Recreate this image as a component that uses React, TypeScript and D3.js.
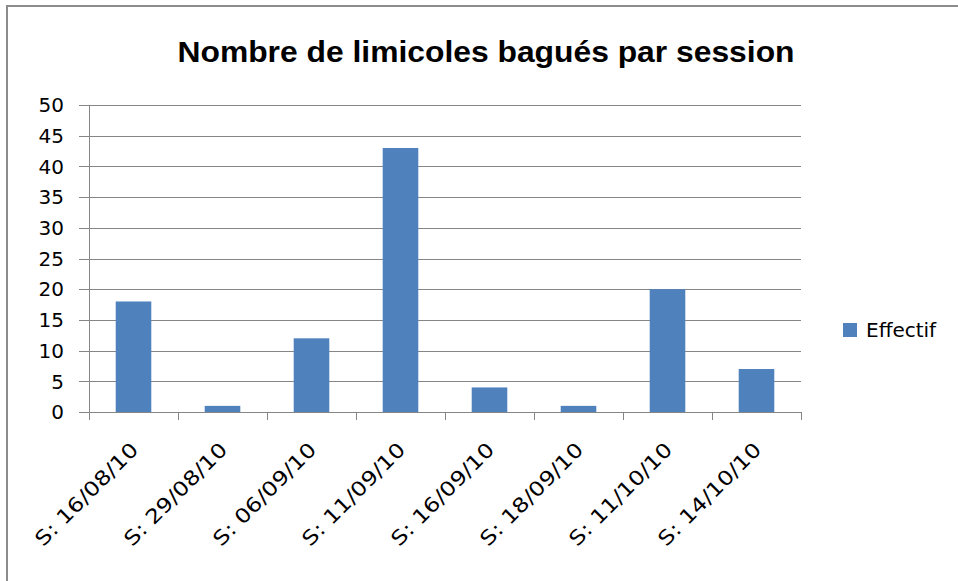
import React from "react";
import * as d3 from "d3";

const categories = ["S: 16/08/10", "S: 29/08/10", "S: 06/09/10", "S: 11/09/10", "S: 16/09/10", "S: 18/09/10", "S: 11/10/10", "S: 14/10/10"];
const effectif = [18, 1, 12, 43, 4, 1, 20, 7];
const yTicks = [0, 5, 10, 15, 20, 25, 30, 35, 40, 45, 50];
const title = "Nombre de limicoles bagués par session";
const seriesName = "Effectif";

const W = 958, H = 581;
const left = 89, right = 801, top = 105, bottom = 412;
const gridColor = "#868686";
const barColor = "#4F81BD";
const font = "'DejaVu Sans', sans-serif";

export default function App() {
  const x = d3.scaleBand<string>().domain(categories).range([left, right]).paddingInner(0).paddingOuter(0);
  const y = d3.scaleLinear().domain([0, 50]).range([bottom, top]);
  const bw = x.bandwidth() / 2.5;

  const bounds = [...categories.map((c) => x(c)!), right];

  return (
    <svg width={W} height={H} style={{ position: "absolute", left: 0, top: 0, background: "#fff" }}>
      <rect x={0} y={0} width={W} height={H} fill="#fff" />
      <path d={`M7,${H + 5} V6 H${W + 5}`} fill="none" stroke="#8c8c8c" strokeWidth={2} />
      <text x={486} y={62} textAnchor="middle" fontFamily="'Liberation Sans', Arial, sans-serif" fontWeight="bold" fontSize={30} textLength={617} lengthAdjust="spacingAndGlyphs" fill="#000">{title}</text>
      {yTicks.map((t) => (
        <g key={t}>
          <line x1={79} x2={right} y1={Math.round(y(t)) + 0.5} y2={Math.round(y(t)) + 0.5} stroke={gridColor} strokeWidth={1} />
          <text x={64} y={y(t)} dy="0.36em" textAnchor="end" fontFamily={font} fontSize={20} fill="#000">{t}</text>
        </g>
      ))}
      {categories.map((c, i) => (
        <rect key={c} x={x(c)! + (x.bandwidth() - bw) / 2} y={y(effectif[i])} width={bw} height={y(0) - y(effectif[i])} fill={barColor} />
      ))}
      <line x1={left + 0.5} x2={left + 0.5} y1={top} y2={bottom} stroke={gridColor} />
      <line x1={left} x2={right} y1={bottom + 0.5} y2={bottom + 0.5} stroke={gridColor} />
      {bounds.map((b, i) => (
        <line key={i} x1={Math.round(b) + 0.5} x2={Math.round(b) + 0.5} y1={bottom} y2={bottom + 8} stroke={gridColor} />
      ))}
      {categories.map((c) => {
        const cx = x(c)! + x.bandwidth() / 2 + 6;
        const cy = 451;
        return (
          <text key={c} x={cx} y={cy} transform={`rotate(-45 ${cx} ${cy})`} textAnchor="end" fontFamily={font} fontSize={20} textLength={136} lengthAdjust="spacingAndGlyphs" fill="#000">{c}</text>
        );
      })}
      <rect x={843} y={323} width={14} height={14} fill={barColor} />
      <text x={866} y={330} dy="0.36em" fontFamily={font} fontSize={20} fill="#000">{seriesName}</text>
    </svg>
  );
}
